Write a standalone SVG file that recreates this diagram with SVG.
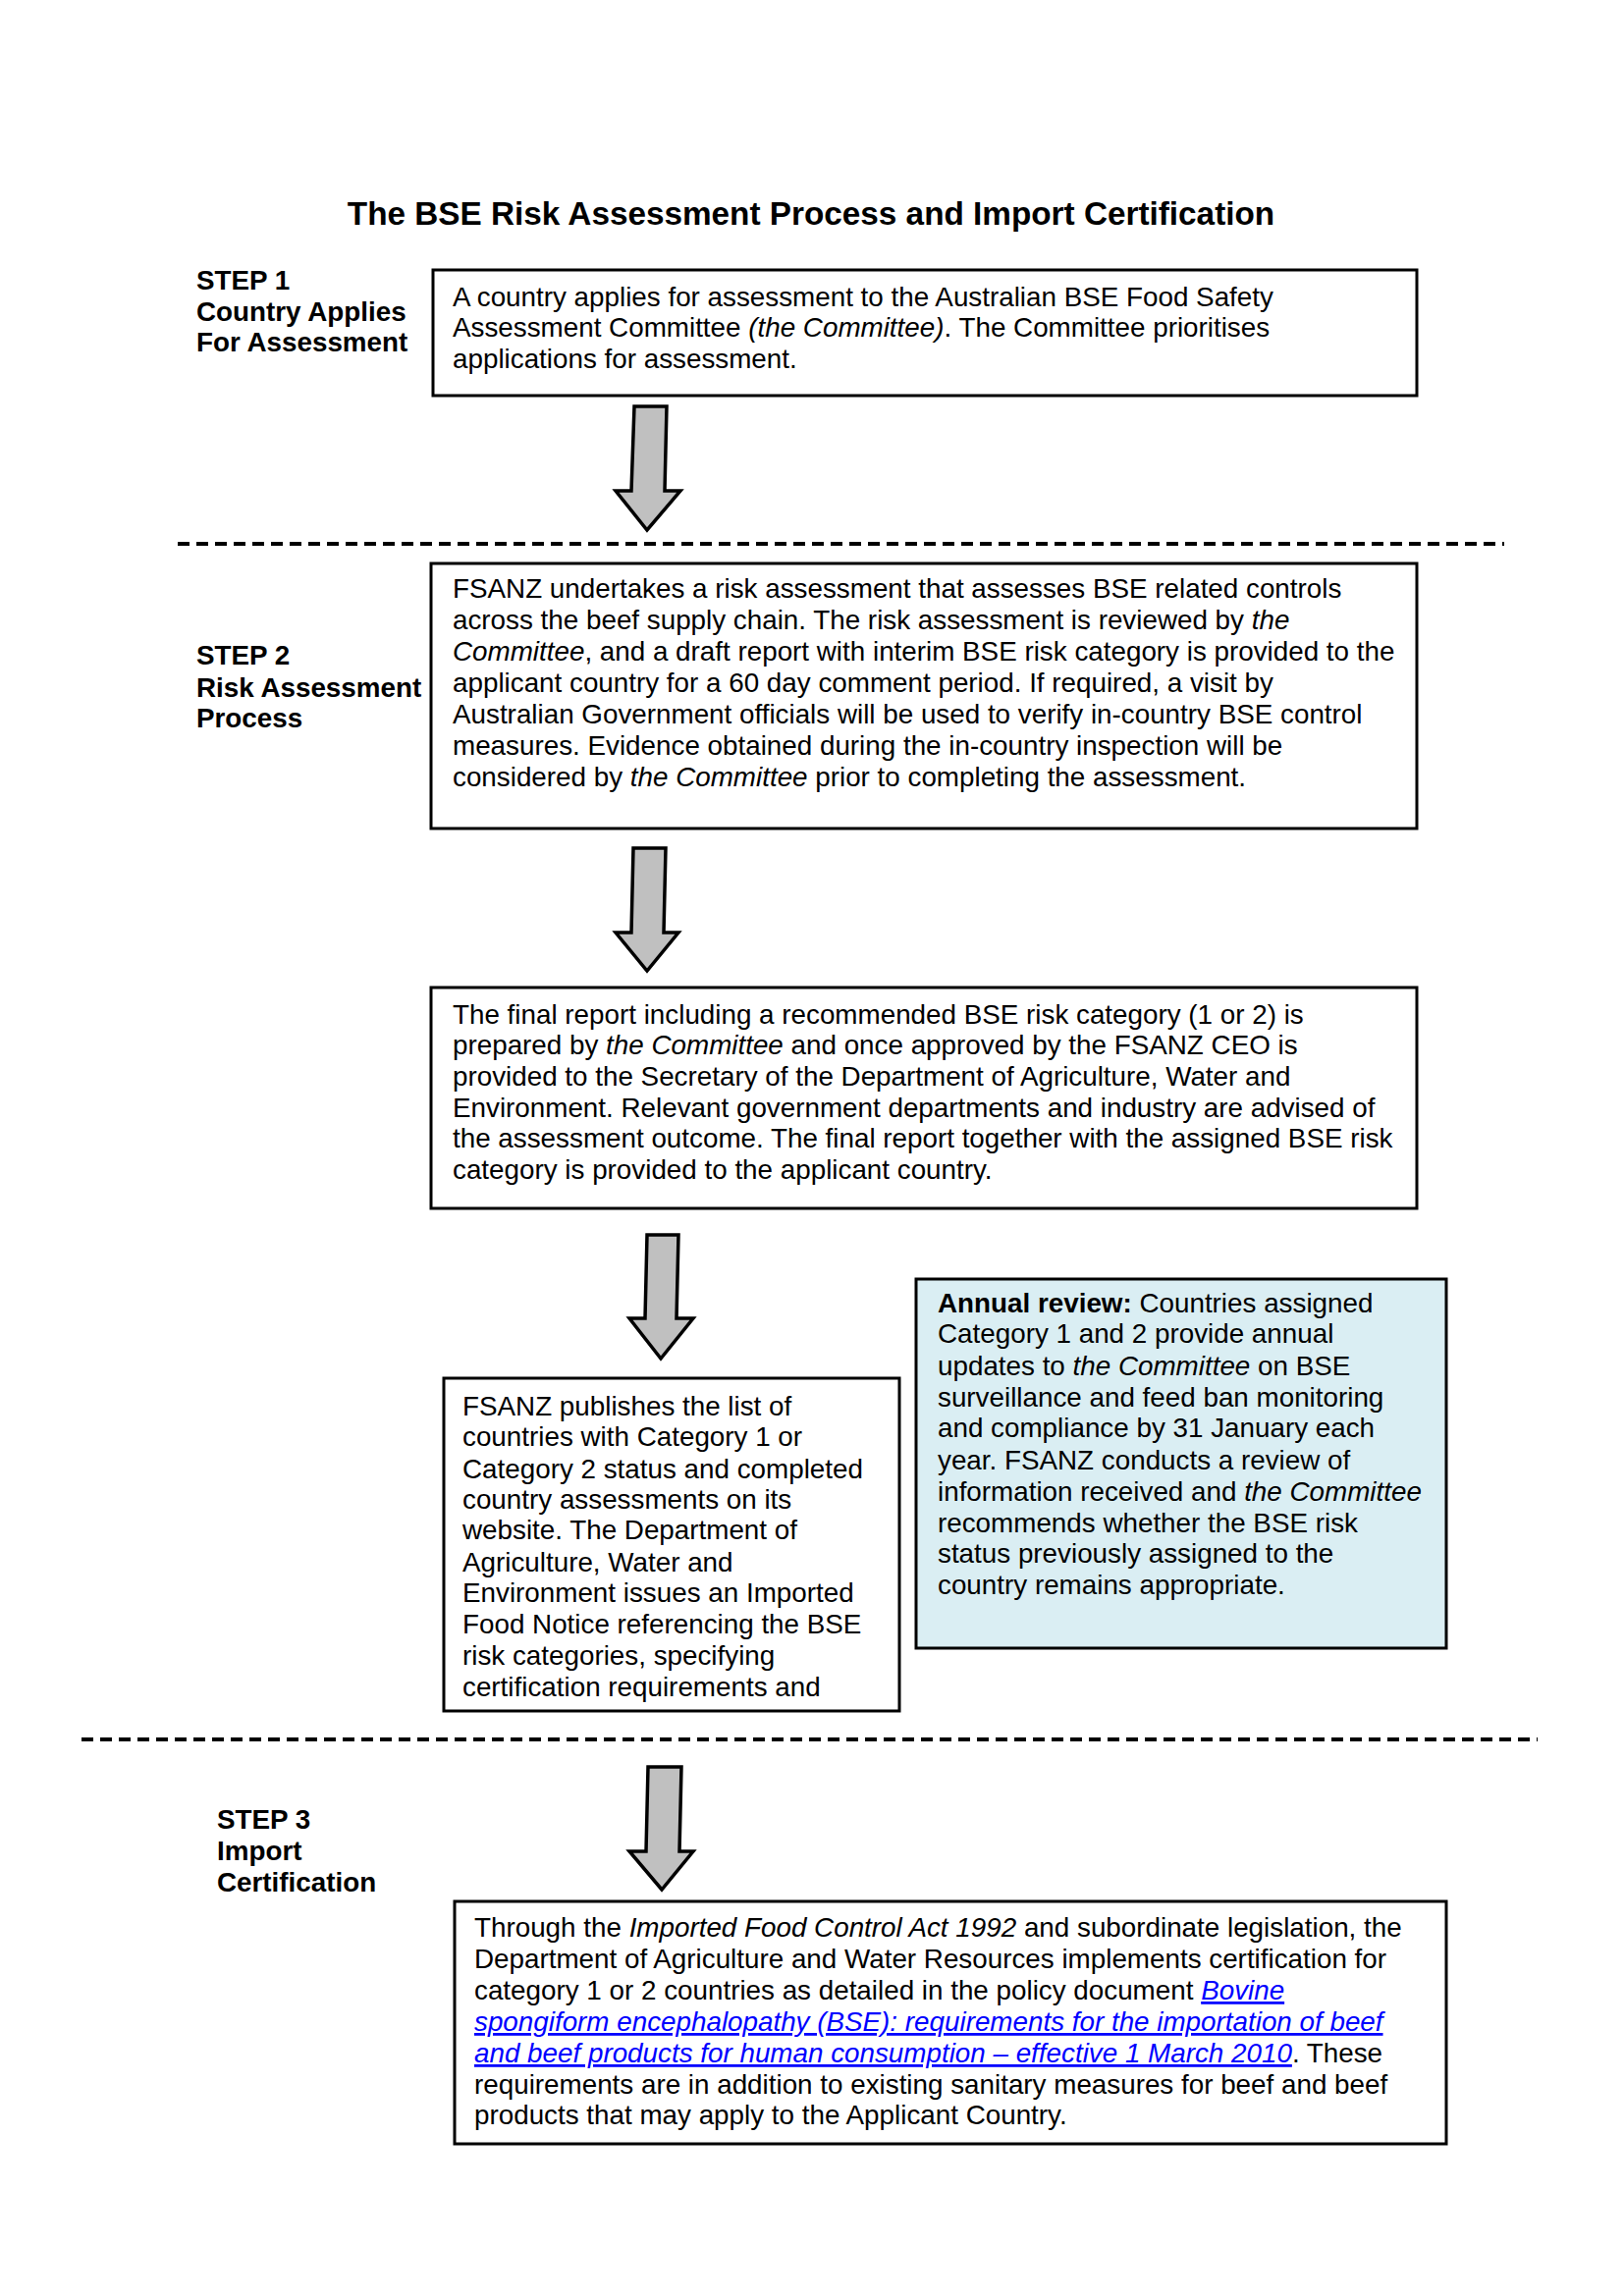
<svg xmlns="http://www.w3.org/2000/svg" width="1654" height="2339" viewBox="0 0 1654 2339">
<style>
text{font-family:"Liberation Sans",Arial,sans-serif;font-size:27.8px;fill:#000}
.title{font-size:33.3px;font-weight:bold}
.lbl{font-weight:bold}
.b{font-weight:bold}
.i{font-style:italic}
.link{font-style:italic;fill:#0000FF;text-decoration:underline}
.box{fill:#fff;stroke:#000;stroke-width:3}
.blue{fill:#DAEEF3;stroke:#000;stroke-width:3}
.arrow{fill:#C0C0C0;stroke:#000;stroke-width:3.5;stroke-linejoin:miter}
.dash{stroke:#000;stroke-width:4;stroke-dasharray:12 7;fill:none}
</style>
<rect width="1654" height="2339" fill="#fff"/>
<text class="title" x="826" y="229" text-anchor="middle">The BSE Risk Assessment Process and Import Certification</text>

<g id="step1-label">
<text class="lbl" x="200" y="295">STEP 1</text>
<text class="lbl" x="200" y="327">Country Applies</text>
<text class="lbl" x="200" y="358">For Assessment</text>
</g>
<g id="step2-label">
<text class="lbl" x="200" y="677">STEP 2</text>
<text class="lbl" x="200" y="710">Risk Assessment</text>
<text class="lbl" x="200" y="741">Process</text>
</g>
<g id="step3-label">
<text class="lbl" x="221" y="1863">STEP 3</text>
<text class="lbl" x="221" y="1895">Import</text>
<text class="lbl" x="221" y="1927">Certification</text>
</g>

<g id="node-apply">
<rect class="box" x="441" y="275" width="1002" height="128"/>
<text x="461" y="312">A country applies for assessment to the Australian BSE Food Safety</text>
<text x="461" y="343">Assessment Committee <tspan class="i">(the Committee)</tspan>. The Committee prioritises</text>
<text x="461" y="375">applications for assessment.</text>
</g>

<g id="node-risk">
<rect class="box" x="439" y="574" width="1004" height="270"/>
<text x="461" y="609">FSANZ undertakes a risk assessment that assesses BSE related controls</text>
<text x="461" y="641">across the beef supply chain. The risk assessment is reviewed by <tspan class="i">the</tspan></text>
<text x="461" y="673"><tspan class="i">Committee</tspan>, and a draft report with interim BSE risk category is provided to the</text>
<text x="461" y="705">applicant country for a 60 day comment period. If required, a visit by</text>
<text x="461" y="737">Australian Government officials will be used to verify in-country BSE control</text>
<text x="461" y="769">measures. Evidence obtained during the in-country inspection will be</text>
<text x="461" y="801">considered by <tspan class="i">the Committee</tspan> prior to completing the assessment.</text>
</g>

<g id="node-final">
<rect class="box" x="439" y="1006" width="1004" height="225"/>
<text x="461" y="1043">The final report including a recommended BSE risk category (1 or 2) is</text>
<text x="461" y="1074">prepared by <tspan class="i">the Committee</tspan> and once approved by the FSANZ CEO is</text>
<text x="461" y="1106">provided to the Secretary of the Department of Agriculture, Water and</text>
<text x="461" y="1138">Environment. Relevant government departments and industry are advised of</text>
<text x="461" y="1169">the assessment outcome. The final report together with the assigned BSE risk</text>
<text x="461" y="1201">category is provided to the applicant country.</text>
</g>

<g id="node-publish">
<rect class="box" x="452" y="1404" width="464" height="339"/>
<text x="471" y="1442">FSANZ publishes the list of</text>
<text x="471" y="1473">countries with Category 1 or</text>
<text x="471" y="1506">Category 2 status and completed</text>
<text x="471" y="1537">country assessments on its</text>
<text x="471" y="1568">website. The Department of</text>
<text x="471" y="1601">Agriculture, Water and</text>
<text x="471" y="1632">Environment issues an Imported</text>
<text x="471" y="1664">Food Notice referencing the BSE</text>
<text x="471" y="1696">risk categories, specifying</text>
<text x="471" y="1728">certification requirements and</text>
</g>

<g id="node-annual">
<rect class="blue" x="933" y="1303" width="540" height="376"/>
<text x="955" y="1337"><tspan class="b">Annual review:</tspan> Countries assigned</text>
<text x="955" y="1368">Category 1 and 2 provide annual</text>
<text x="955" y="1401">updates to <tspan class="i">the Committee</tspan> on BSE</text>
<text x="955" y="1433">surveillance and feed ban monitoring</text>
<text x="955" y="1464">and compliance by 31 January each</text>
<text x="955" y="1497">year. FSANZ conducts a review of</text>
<text x="955" y="1529">information received and <tspan class="i">the Committee</tspan></text>
<text x="955" y="1561">recommends whether the BSE risk</text>
<text x="955" y="1592">status previously assigned to the</text>
<text x="955" y="1624">country remains appropriate.</text>
</g>

<g id="node-import">
<rect class="box" x="463" y="1937" width="1010" height="247"/>
<text x="483" y="1973">Through the <tspan class="i">Imported Food Control Act 1992</tspan> and subordinate legislation, the</text>
<text x="483" y="2005">Department of Agriculture and Water Resources implements certification for</text>
<text x="483" y="2037">category 1 or 2 countries as detailed in the policy document <tspan class="link">Bovine</tspan></text>
<text x="483" y="2069"><tspan class="link">spongiform encephalopathy (BSE): requirements for the importation of beef</tspan></text>
<text x="483" y="2101"><tspan class="link">and beef products for human consumption – effective 1 March 2010</tspan>. These</text>
<text x="483" y="2133">requirements are in addition to existing sanitary measures for beef and beef</text>
<text x="483" y="2164">products that may apply to the Applicant Country.</text>
</g>

<g id="connectors">
<line class="dash" x1="181" y1="554" x2="1532" y2="554"/>
<line class="dash" x1="83" y1="1772" x2="1566" y2="1772"/>
<polygon class="arrow" points="646,414 679,414 677,500 693,500 659,540 627,500 643,500"/>
<polygon class="arrow" points="645,864 678,864 676,950 691,950 659,989 627,950 643,950"/>
<polygon class="arrow" points="659,1258 691,1258 689,1343 706,1343 673,1384 641,1343 657,1343"/>
<polygon class="arrow" points="660,1800 694,1800 692,1886 706,1886 674,1925 641,1886 658,1886"/>
</g>
</svg>
